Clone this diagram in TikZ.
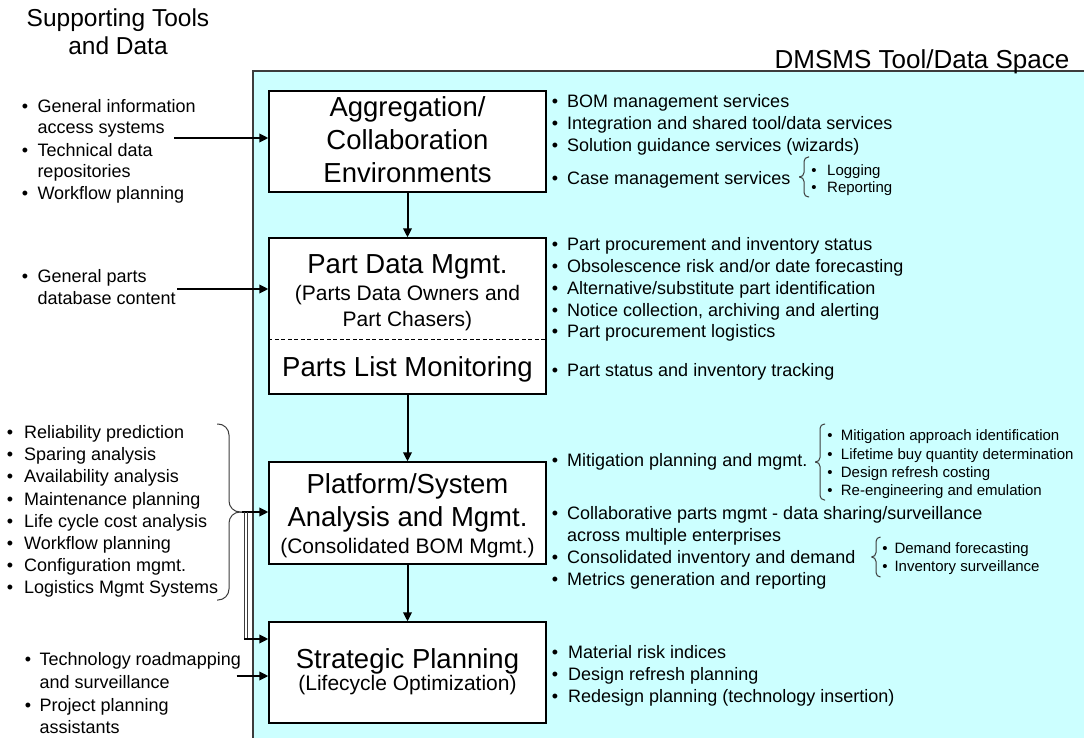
\documentclass[tikz,border=0pt]{standalone}
\usepackage{fontspec}
\setmainfont{Liberation Sans}
\usetikzlibrary{arrows.meta}
\definecolor{cyanbg}{RGB}{204,255,255}
\definecolor{edgegray}{RGB}{60,60,60}
\newcommand\bitem[6]{%
  \node[#2, anchor=base] (#1-b) at (#3,#5) {\textbullet};
  \node[#2, anchor=base west] (#1) at (#4,#5) {#6};}
\newcommand\tline[5]{\node[#2, anchor=base west] (#1) at (#3,#4) {#5};}
\newcommand\BraceShape[6]{%
  \draw[brc, rounded corners=#6pt] (#3,#4) -- (#2,#4) -- (#2,{(#4+#5)/2}) -- (#1,{(#4+#5)/2});
  \draw[brc, rounded corners=#6pt] (#1,{(#4+#5)/2}) -- (#2,{(#4+#5)/2}) -- (#2,#5) -- (#3,#5);}
\tikzset{
  boxnode/.style={draw=black, line width=1.3pt, fill=white, minimum width=277pt, inner sep=0pt},
  arr/.style={line width=2pt, -{Triangle[length=9pt,width=8.5pt]}},
  brc/.style={line width=1pt, draw=edgegray},
  thinln/.style={line width=1pt, draw=edgegray},
  t/.style={inner sep=0pt, font=\fontsize{18}{21}\selectfont},
  ts/.style={inner sep=0pt, font=\fontsize{15}{18}\selectfont},
  hd/.style={inner sep=0pt, anchor=base, font=\fontsize{24.5}{29}\selectfont},
  bt/.style={inner sep=0pt, anchor=base, font=\fontsize{27.5}{33}\selectfont},
  bs/.style={inner sep=0pt, anchor=base, font=\fontsize{21}{25}\selectfont},
}
\begin{document}
\begin{tikzpicture}[x=1pt,y=-1pt]
\useasboundingbox (0,0) rectangle (1084,738);
% background space
\fill[cyanbg] (253,71) rectangle (1084,738);
\draw[thinln, line width=1.3pt] (253,738) -- (253,71) -- (1084,71);

% headers
\node[hd] (h1) at (118,26.5) {Supporting Tools};
\node[hd] (h2) at (118,55) {and Data};
\node[hd, font=\fontsize{26}{31}\selectfont] (h3) at (922,68.5) {DMSMS Tool/Data Space};

% boxes
\node[boxnode, minimum height=101pt] (b1) at (407.5,141.5) {};
\node[boxnode, minimum height=156pt] (b2) at (407.5,316) {};
\node[boxnode, minimum height=102pt] (b3) at (407.5,513) {};
\node[boxnode, minimum height=101pt] (b4) at (407.5,672.5) {};
\coordinate (dy) at (0,339);
\draw[line width=1pt, dash pattern=on 4pt off 2.5pt] (b2.west |- dy) -- (b2.east |- dy);

% box texts
\node[bt] (b1t1) at (407.5,117) {Aggregation/};
\node[bt] (b1t2) at (407.5,150) {Collaboration};
\node[bt] (b1t3) at (407.5,183) {Environments};
\node[bt] (b2t1) at (407.5,273.3) {Part Data Mgmt.};
\node[bs] (b2t2) at (407.5,300.7) {(Parts Data Owners and};
\node[bs] (b2t3) at (407.5,326.7) {Part Chasers)};
\node[bt] (b2t4) at (407.5,376.7) {Parts List Monitoring};
\node[bt] (b3t1) at (407.5,493.3) {Platform/System};
\node[bt] (b3t2) at (407.5,526.7) {Analysis and Mgmt.};
\node[bs] (b3t3) at (407.5,553.3) {(Consolidated BOM Mgmt.)};
\node[bt] (b4t1) at (407.5,668.3) {Strategic Planning};
\node[bs] (b4t2) at (407.5,690) {(Lifecycle Optimization)};

% vertical arrows
\draw[arr] (b1.south) -- (b2.north);
\draw[arr] (b2.south) -- (b3.north);
\draw[arr] (b3.south) -- (b4.north);

% left lists
\bitem{la1}{t}{25}{37.3}{112.7}{General information}
\tline{la1c}{t}{37.3}{134}{access systems}
\bitem{la2}{t}{25}{37.3}{156.7}{Technical data}
\tline{la2c}{t}{37.3}{178}{repositories}
\bitem{la3}{t}{25}{37.3}{199.7}{Workflow planning}

\bitem{lb1}{t}{25}{37.3}{282.5}{General parts}
\tline{lb1c}{t}{37.3}{304}{database content}

\bitem{lc1}{t}{10}{24}{438.3}{Reliability prediction}
\bitem{lc2}{t}{10}{24}{460.5}{Sparing analysis}
\bitem{lc3}{t}{10}{24}{482.7}{Availability analysis}
\bitem{lc4}{t}{10}{24}{505}{Maintenance planning}
\bitem{lc5}{t}{10}{24}{527}{Life cycle cost analysis}
\bitem{lc6}{t}{10}{24}{549.3}{Workflow planning}
\bitem{lc7}{t}{10}{24}{571.5}{Configuration mgmt.}
\bitem{lc8}{t}{10}{24}{593.5}{Logistics Mgmt Systems}

\bitem{ld1}{t}{28}{39.5}{665}{Technology roadmapping}
\tline{ld1c}{t}{39.5}{688}{and surveillance}
\bitem{ld2}{t}{28}{39.5}{711.5}{Project planning}
\tline{ld2c}{t}{39.5}{733}{assistants}

% left connectors
\coordinate (s1) at (174,138);
\draw[arr] (s1) -- (s1 -| b1.west);
\coordinate (s2) at (177,289);
\draw[arr] (s2) -- (s2 -| b2.west);
\BraceShape{242}{229}{217}{424}{600}{11}
\coordinate (tipC) at (242,512);
\draw[arr] (tipC) -- (tipC -| b3.west);
\coordinate (v1) at (244.3,512);
\coordinate (v2) at (247.7,512);
\coordinate (s4) at (244.3,639);
\draw[thinln] (v1) -- (s4);
\draw[thinln] (v2) -- (v2 |- s4);
\draw[arr] (s4) -- (s4 -| b4.west);
\coordinate (s5) at (236.7,676);
\draw[arr] (s5) -- (s5 -| b4.west);

% right lists: box 1
\bitem{r11}{t}{555}{567}{107.5}{BOM management services}
\bitem{r12}{t}{555}{567}{129.5}{Integration and shared tool/data services}
\bitem{r13}{t}{555}{567}{151.5}{Solution guidance services (wizards)}
\bitem{r14}{t}{555}{567}{184.3}{Case management services}
\BraceShape{799}{804}{809}{157}{197}{4.5}
\bitem{r15}{ts}{814}{827}{175.7}{Logging}
\bitem{r16}{ts}{814}{827}{192.7}{Reporting}

% box 2
\bitem{r21}{t}{555}{567}{250}{Part procurement and inventory status}
\bitem{r22}{t}{555}{567}{272.3}{Obsolescence risk and/or date forecasting}
\bitem{r23}{t}{555}{567}{294}{Alternative/substitute part identification}
\bitem{r24}{t}{555}{567}{316}{Notice collection, archiving and alerting}
\bitem{r25}{t}{555}{567}{337.5}{Part procurement logistics}
\bitem{r26}{t}{555}{567}{376.7}{Part status and inventory tracking}

% box 3
\bitem{r31}{t}{555}{567}{466.7}{Mitigation planning and mgmt.}
\BraceShape{815}{820}{825}{424}{500}{4.5}
\bitem{r3a}{ts}{830}{840.7}{440.7}{Mitigation approach identification}
\bitem{r3b}{ts}{830}{840.7}{459}{Lifetime buy quantity determination}
\bitem{r3c}{ts}{830}{840.7}{477}{Design refresh costing}
\bitem{r3d}{ts}{830}{840.7}{495.7}{Re-engineering and emulation}
\bitem{r32}{t}{555}{567}{519}{Collaborative parts mgmt - data sharing/surveillance}
\tline{r32c}{t}{567}{541.7}{across multiple enterprises}
\bitem{r33}{t}{555}{567}{563.3}{Consolidated inventory and demand}
\BraceShape{871.5}{876}{880.5}{537}{577}{4.5}
\bitem{r3e}{ts}{885}{894.3}{553.3}{Demand forecasting}
\bitem{r3f}{ts}{885}{894.3}{571.7}{Inventory surveillance}
\bitem{r34}{t}{555}{567}{585.7}{Metrics generation and reporting}

% box 4
\bitem{r41}{t}{555}{568}{658}{Material risk indices}
\bitem{r42}{t}{555}{568}{680}{Design refresh planning}
\bitem{r43}{t}{555}{568}{702}{Redesign planning (technology insertion)}
\end{tikzpicture}
\end{document}
